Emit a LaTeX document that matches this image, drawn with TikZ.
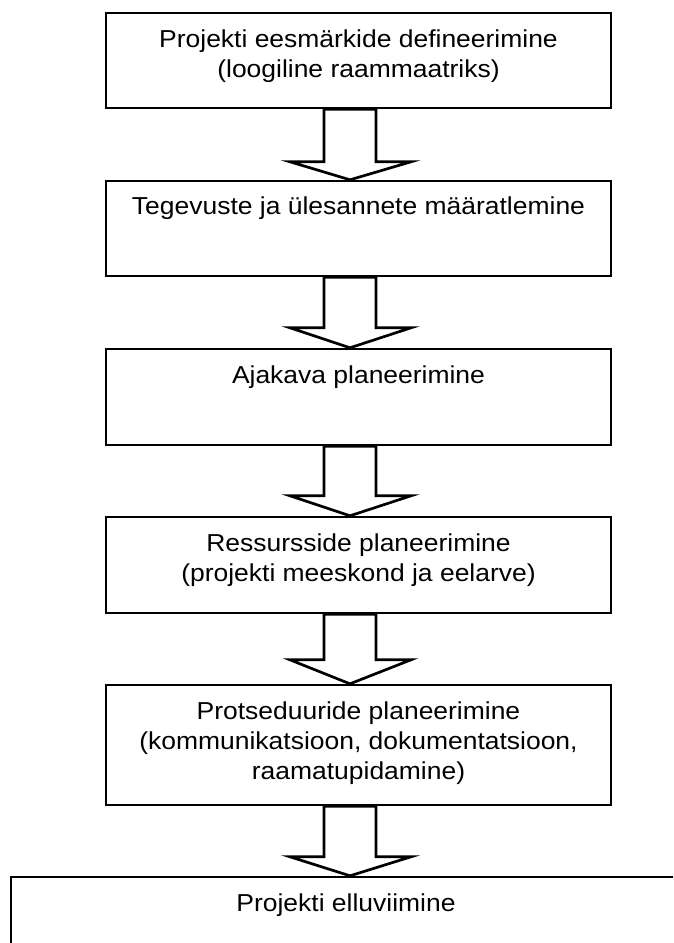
\documentclass[tikz,border=0pt]{standalone}
\usepackage{fontspec}
\setmainfont{Liberation Sans}[FakeStretch=1.08]
\usetikzlibrary{calc}
\tikzset{
  stepbox/.style={draw=black, line width=2.4pt, fill=white, inner sep=0pt},
  boxtext/.style={anchor=north, inner sep=0pt, align=center, text=black,
    font=\fontsize{24.5pt}{30pt}\selectfont},
  barrow/.style={draw=black, fill=white, line width=2.7pt, line join=miter}
}
\newcommand\blockarrow[3]{%
  \draw[barrow] let \p1=(#1.south), \p2=(#2.north) in
    (\x1-34.5pt,\y1) -- (\x1-34.5pt,\y2+#3) -- (\x1-68.5pt,\y2+#3) --
    (\x1-8.5pt,\y2) -- (\x1+52.5pt,\y2+#3) -- (\x1+17.5pt,\y2+#3) --
    (\x1+17.5pt,\y1) -- cycle;}
\newcommand\firstline{\rule{0pt}{21pt}}
\begin{document}
\begin{tikzpicture}[x=1pt, y=-1pt]
  \useasboundingbox[fill=white] (0,0) rectangle (673,943);
  \clip (0,0) rectangle (673,943);
  % boxes
  \node[stepbox, minimum width=505pt, minimum height=95pt] (b1) at (358.5,60.5) {};
  \node[stepbox, minimum width=505pt, minimum height=95pt] (b2) at (358.5,228.5) {};
  \node[stepbox, minimum width=505pt, minimum height=96pt] (b3) at (358.5,397) {};
  \node[stepbox, minimum width=505pt, minimum height=96pt] (b4) at (358.5,565) {};
  \node[stepbox, minimum width=505pt, minimum height=120pt] (b5) at (358.5,745) {};
  \node[stepbox, minimum width=670pt, minimum height=100pt] (b6) at (346,927) {};
  % texts
  \node[boxtext] (t1) at ($(b1.north)+(0,14)$)
    {\firstline Projekti eesmärkide defineerimine\\(loogiline raammaatriks)};
  \node[boxtext] (t2) at ($(b2.north)+(0,13.5)$)
    {\firstline Tegevuste ja ülesannete määratlemine};
  \node[boxtext] (t3) at ($(b3.north)+(0,14)$)
    {\firstline Ajakava planeerimine};
  \node[boxtext] (t4) at ($(b4.north)+(0,14.5)$)
    {\firstline Ressursside planeerimine\\(projekti meeskond ja eelarve)};
  \node[boxtext] (t5) at ($(b5.north)+(0,14.5)$)
    {\firstline Protseduuride planeerimine\\(kommunikatsioon, dokumentatsioon,\\raamatupidamine)};
  \node[boxtext] (t6) at ($(b6.north)+(0,14.5)$)
    {\firstline Projekti elluviimine};
  % block arrows
  \blockarrow{b1}{b2}{18pt}
  \blockarrow{b2}{b3}{20pt}
  \blockarrow{b3}{b4}{20pt}
  \blockarrow{b4}{b5}{24pt}
  \blockarrow{b5}{b6}{19pt}
\end{tikzpicture}
\end{document}
